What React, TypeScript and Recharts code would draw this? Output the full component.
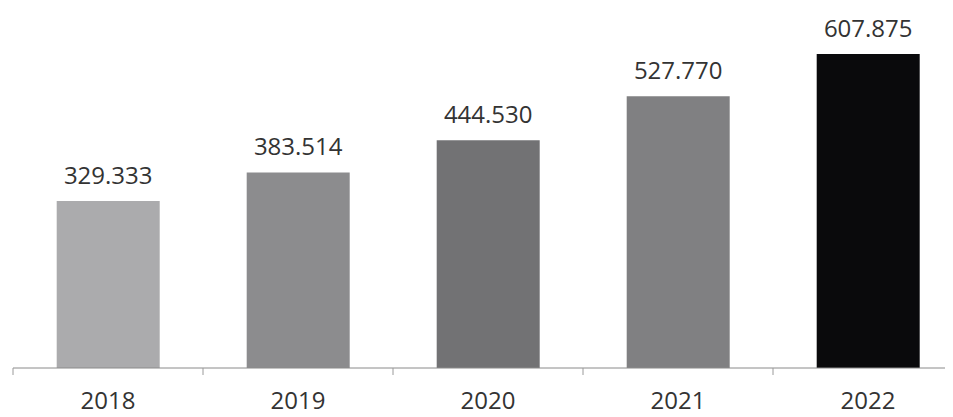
import { BarChart, Bar, XAxis, YAxis, Cell, LabelList } from "recharts";

const years = ["2018", "2019", "2020", "2021", "2022"];
const totals = [329333, 383514, 444530, 527770, 607875];
const barColors = ["#ababad", "#8c8c8e", "#727274", "#808082", "#0a0a0c"];

const data = years.map((year, i) => ({ year, total: totals[i] }));

const CHART_W = 955;
const CHART_H = 409;
const MARGIN = { top: 0, right: 0, bottom: 0, left: 5 };
const HALF_BAND = (CHART_W - MARGIN.left - MARGIN.right) / years.length / 2;

const fmt = (v: number) => v.toLocaleString("de-DE");

function YearTick(props: any) {
  const { x, y, payload } = props;
  return (
    <g>
      <line x1={x - HALF_BAND} y1={y} x2={x - HALF_BAND} y2={y + 7} stroke="#9a9a9a" strokeWidth={1} />
      <text
        x={x}
        y={y + 41}
        textAnchor="middle"
        fill="#333"
        fontSize={24}
        fontFamily="'Open Sans', sans-serif"
      >
        {payload.value}
      </text>
    </g>
  );
}

export default function App() {
  return (
    <div style={{ width: 945, height: CHART_H, overflow: "hidden", background: "#fff" }}>
      <BarChart width={CHART_W} height={CHART_H} data={data} margin={MARGIN} barCategoryGap="23%">
        <XAxis
          dataKey="year"
          height={CHART_H - 360}
          tickLine={false}
          tickSize={0}
          tickMargin={0}
          axisLine={{ stroke: "#8a8a8a", strokeWidth: 1 }}
          tick={<YearTick />}
          interval={0}
        />
        <YAxis hide domain={[13000, 695000]} allowDataOverflow />
        <Bar dataKey="total" isAnimationActive={false}>
          {data.map((d, i) => (
            <Cell key={d.year} fill={barColors[i]} />
          ))}
          <LabelList
            dataKey="total"
            position="top"
            offset={17}
            formatter={(v: any) => fmt(Number(v))}
            fill="#333"
            fontSize={24}
            fontFamily="'Open Sans', sans-serif"
          />
        </Bar>
      </BarChart>
    </div>
  );
}
